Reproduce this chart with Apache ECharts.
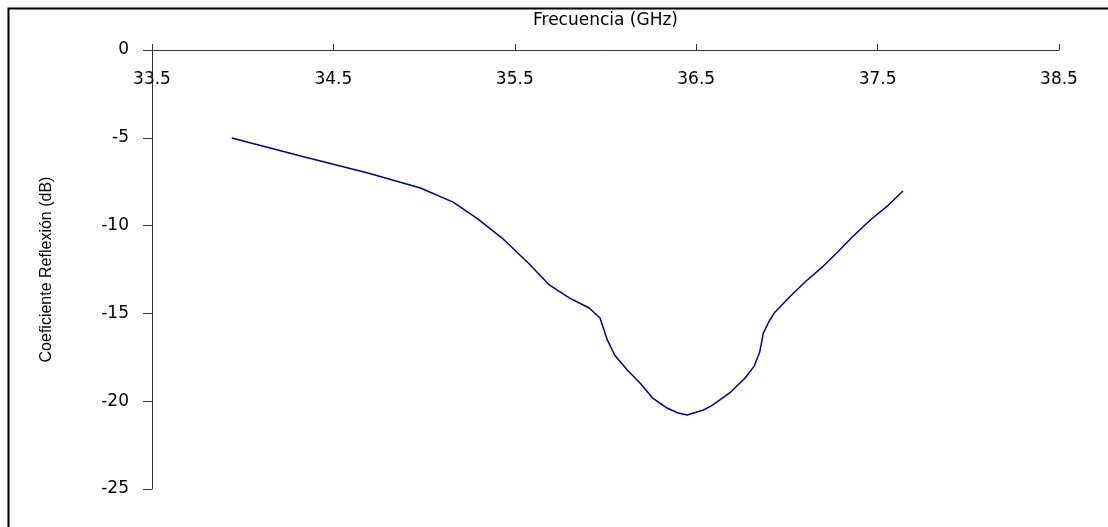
<!DOCTYPE html>
<html>
<head>
<meta charset="utf-8">
<script src="https://cdn.jsdelivr.net/npm/echarts@6/dist/echarts.min.js"></script>
<style>
  html, body { margin: 0; padding: 0; background: #fff; }
  #chart { width: 1108px; height: 527px; }
</style>
</head>
<body>
<div id="chart"></div>
<script>
// frequency (GHz) and reflection coefficient (dB)
const freq = [33.94, 34.32, 34.69, 34.98, 35.16, 35.29, 35.43, 35.58, 35.69, 35.80,
  35.91, 35.97, 36.01, 36.05, 36.12, 36.19, 36.26, 36.34, 36.40, 36.45,
  36.54, 36.59, 36.69, 36.77, 36.82, 36.85, 36.87, 36.90, 36.93, 37.02,
  37.10, 37.19, 37.28, 37.36, 37.46, 37.56, 37.64]
const s11 = [-5.01, -6.04, -7.0, -7.86, -8.66, -9.57, -10.71, -12.19, -13.38, -14.12,
  -14.69, -15.26, -16.51, -17.37, -18.22, -18.96, -19.82, -20.39, -20.67, -20.79,
  -20.50, -20.22, -19.48, -18.68, -18.00, -17.20, -16.12, -15.49, -14.98, -14.01,
  -13.21, -12.41, -11.50, -10.65, -9.68, -8.83, -8.03]

const xTicks = [33.5, 34.5, 35.5, 36.5, 37.5, 38.5]
const yTicks = [0, -5, -10, -15, -20, -25]

const font = 'DejaVu Sans'
const dom = echarts.init(document.getElementById('chart'))

const option = {
  animation: false,
  backgroundColor: '#fff',
  grid: { left: 152, top: 50, right: 49, bottom: 38 },
  graphic: [{
    type: 'rect',
    left: 6,
    top: 6,
    shape: { width: 1120, height: 540 },
    style: { fill: 'none', stroke: '#000', lineWidth: 2 },
    silent: true
  }],
  xAxis: {
    type: 'value',
    position: 'top',
    min: xTicks[0],
    max: xTicks[xTicks.length - 1],
    interval: 1,
    name: 'Frecuencia (GHz)',
    nameLocation: 'middle',
    nameGap: 21,
    nameTextStyle: { fontFamily: font, fontSize: 17, color: '#000' },
    axisLine: { show: true, onZero: false, lineStyle: { color: '#333', width: 1 } },
    axisTick: { show: true, length: 6, lineStyle: { color: '#333' } },
    axisLabel: {
      inside: true,
      margin: 21,
      color: '#000',
      fontFamily: font,
      fontSize: 17,
      customValues: xTicks,
      formatter: v => v.toFixed(1)
    },
    splitLine: { show: false }
  },
  yAxis: {
    type: 'value',
    min: -25,
    max: 0,
    interval: 5,
    name: 'Coeficiente Reflexión (dB)',
    nameLocation: 'middle',
    nameGap: 97,
    nameTextStyle: { fontFamily: 'Liberation Sans', fontSize: 16, color: '#000' },
    axisLine: { show: true, onZero: false, lineStyle: { color: '#333', width: 1 } },
    axisTick: { show: true, length: 9, lineStyle: { color: '#333' } },
    axisLabel: {
      margin: 23,
      color: '#000',
      fontFamily: font,
      fontSize: 17,
      customValues: yTicks
    },
    splitLine: { show: false }
  },
  series: [{
    type: 'line',
    data: freq.map((f, i) => [f, s11[i]]),
    showSymbol: false,
    smooth: false,
    lineStyle: { color: '#000080', width: 1.5 }
  }]
}

dom.setOption(option)
</script>
</body>
</html>
